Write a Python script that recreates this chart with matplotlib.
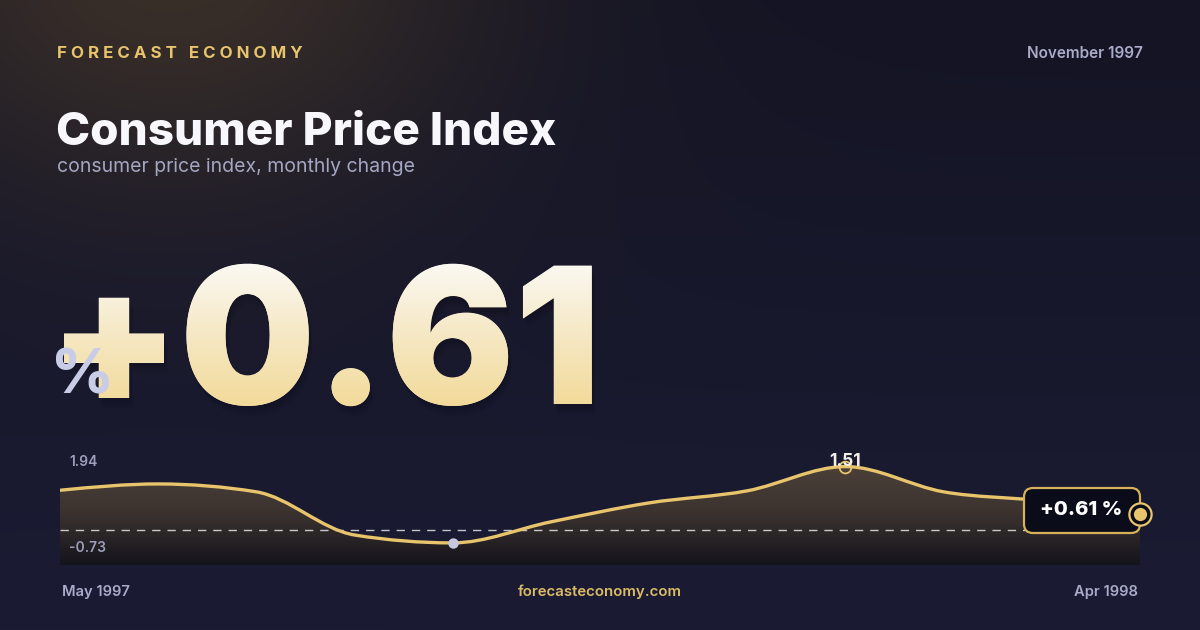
import numpy as np
import matplotlib
matplotlib.use("Agg")
import matplotlib.pyplot as plt
from matplotlib.path import Path
from matplotlib.patches import PathPatch, FancyBboxPatch
from matplotlib.textpath import TextPath
from matplotlib.font_manager import FontProperties
from matplotlib.colors import LinearSegmentedColormap
import matplotlib.transforms as mtransforms

W, H = 1200, 630

# ---- data ----
months = ["May 1997", "Jun 1997", "Jul 1997", "Aug 1997", "Sep 1997", "Oct 1997",
          "Nov 1997", "Dec 1997", "Jan 1998", "Feb 1998", "Mar 1998", "Apr 1998"]
cpi_change = [1.06, 1.18, 1.03, 0.21, 0.06, 0.46, 0.82, 1.05, 1.51, 1.03, 0.86, 0.61]
range_labels = ["1.94", "-0.73"]
headline = "+0.61"
period = "November 1997"
brand = "FORECAST ECONOMY"
title = "Consumer Price Index"
subtitle = "consumer price index, monthly change"
site = "forecasteconomy.com"
ref_level = 0.30

GOLD = "#e8c46c"
LAV = "#a9abc8"
FONT = ["Inter", "DejaVu Sans"]

plt.rcParams["font.family"] = FONT

fig = plt.figure(figsize=(W / 100, H / 100), dpi=100)

# background axes in pixel coordinates (y down)
bg = fig.add_axes([0, 0, 1, 1], zorder=0)
bg.set_xlim(0, W)
bg.set_ylim(H, 0)
bg.axis("off")

yy, xx = np.mgrid[0:H, 0:W]
t = yy / H
base = np.zeros((H, W, 3))
top_c = np.array([20, 20, 36]) / 255
bot_c = np.array([27, 28, 52]) / 255
base[:] = top_c + (bot_c - top_c) * t[..., None]
d2 = (xx - 170) ** 2 + ((yy + 40) / 0.75) ** 2
glow = 0.85 * np.exp(-d2 / (2 * 230 ** 2))
glow_c = np.array([64, 52, 42]) / 255
img = base * (1 - glow[..., None]) + glow_c * glow[..., None]
bg.imshow(img, extent=[0, W, H, 0], aspect="auto", zorder=0)

# header
bg.text(57, 53, " ".join(brand), color=GOLD, fontsize=12.2,
        fontweight="bold", va="center", ha="left")
bg.text(1143, 54, period, color=LAV, fontsize=11, fontweight="semibold",
        va="center", ha="right")
bg.text(56, 145, title, color="#f8f8fc", fontsize=33, fontweight="heavy",
        va="baseline", ha="left")
bg.text(57, 167, subtitle, color="#a4a6c2", fontsize=14, va="center", ha="left")

# big headline number with vertical gradient
big_size = 137
big_prop = FontProperties(family=FONT, weight="black", size=big_size)
bx, by = 48, 404
shadow = TextPath((0, 0), headline, prop=big_prop, size=big_size * 100 / 72)
for k, a in [(10, 0.06), (7, 0.08), (4, 0.10)]:
    tr = mtransforms.Affine2D().scale(1, -1).translate(bx + k * 0.4, by + k)
    bg.add_patch(PathPatch(tr.transform_path(shadow), facecolor="#05050c",
                           edgecolor="none", alpha=a, zorder=2))
bg.text(bx, by, headline, color="#f7e8c0", fontproperties=big_prop,
        va="baseline", ha="left", zorder=3)
tp = TextPath((0, 0), headline, prop=big_prop, size=big_size * 100 / 72)
tr = mtransforms.Affine2D().scale(1, -1).translate(bx, by)
clip = PathPatch(tr.transform_path(tp), facecolor="none", edgecolor="none",
                 transform=bg.transData)
bg.add_patch(clip)
grad = LinearSegmentedColormap.from_list("g", ["#fbfaf6", "#f6e8c4", "#f2d996"])
gv = np.linspace(0, 1, 256)[:, None]
gi = bg.imshow(gv, cmap=grad, extent=[30, 640, 412, 258], aspect="auto", zorder=4)
gi.set_clip_path(clip)
bg.text(51, 393, "%", color="#c9cce6", fontsize=44, fontweight="heavy",
        va="baseline", ha="left", zorder=5)

# footer
bg.text(62, 592, months[0], color=LAV, fontsize=10.6, fontweight="semibold",
        va="center", ha="left")
bg.text(1138, 592, months[-1], color=LAV, fontsize=10.6, fontweight="semibold",
        va="center", ha="right")
bg.text(600, 592, site, color="#dcbb66", fontsize=10.8, fontweight="semibold",
        va="center", ha="center")

# ---- sparkline ----
sp = fig.add_axes([60 / W, (H - 565) / H, 1080 / W, 110 / H], zorder=1)
sp.set_xlim(0, len(cpi_change) - 1)
y_lo, y_hi = -0.36, 1.73
sp.set_ylim(y_lo, y_hi)
sp.axis("off")
sp.patch.set_alpha(0)

x = np.arange(len(cpi_change), dtype=float)
y = np.array(cpi_change, dtype=float)

# monotone cubic tangents -> bezier control points
h = np.diff(x)
s = np.diff(y) / h
m = np.zeros_like(y)
for i in range(1, len(y) - 1):
    p = (s[i - 1] * h[i] + s[i] * h[i - 1]) / (h[i - 1] + h[i])
    m[i] = (np.sign(s[i - 1]) + np.sign(s[i])) * min(abs(s[i - 1]), abs(s[i]), 0.5 * abs(p))
m[0] = (3 * s[0] - m[1]) / 2
m[-1] = (3 * s[-1] - m[-2]) / 2

verts = [(x[0], y[0])]
codes = [Path.MOVETO]
for i in range(len(x) - 1):
    dx = h[i] / 3
    verts += [(x[i] + dx, y[i] + dx * m[i]), (x[i + 1] - dx, y[i + 1] - dx * m[i + 1]),
              (x[i + 1], y[i + 1])]
    codes += [Path.CURVE4] * 3
line_path = Path(verts, codes)
fill_path = Path(verts + [(x[-1], y_lo), (x[0], y_lo), (x[0], y[0])],
                 codes + [Path.LINETO, Path.LINETO, Path.CLOSEPOLY])

fill_patch = PathPatch(fill_path, facecolor="none", edgecolor="none")
sp.add_patch(fill_patch)
fcm = LinearSegmentedColormap.from_list("f", ["#4d4239", "#3b322f", "#14141c"])
fi = sp.imshow(np.linspace(0, 1, 256)[:, None], cmap=fcm, aspect="auto",
               extent=[x[0], x[-1], y_lo, 1.58], zorder=1)
fi.set_clip_path(fill_patch)
sp.axhline(ref_level, color="white", alpha=0.75, lw=1, dashes=(6, 5), zorder=2)
sp.add_patch(PathPatch(line_path, facecolor="none", edgecolor=GOLD, lw=2.4,
                       capstyle="round", zorder=3))

# overlay (labels, markers, value box)
ov = fig.add_axes([0, 0, 1, 1], zorder=2)
ov.set_xlim(0, W)
ov.set_ylim(H, 0)
ov.axis("off")
ov.patch.set_alpha(0)

ov.text(69, 462, range_labels[0], color="#9c9ebb", fontsize=10, fontweight="semibold",
        va="center", ha="left")
ov.text(69, 548, range_labels[1], color="#9c9ebb", fontsize=10, fontweight="semibold",
        va="center", ha="left")

imax = int(np.argmax(y))
imin = int(np.argmin(y))
ov.text(845, 462, f"{y[imax]:.2f}", color="#f1eee6", fontsize=12.5, fontweight="bold",
        va="center", ha="center")
ov.plot([x[imax]], [y[imax]], "o", transform=sp.transData, ms=8.5, mfc="none",
        mec=GOLD, mew=1.3)
ov.plot([x[imin]], [y[imin]], "o", transform=sp.transData, ms=7.5, mfc="#c5c8e0",
        mec="none")

box = FancyBboxPatch((1024, 488), 116, 45, boxstyle="round,pad=0,rounding_size=9",
                     facecolor="#0b0c19", edgecolor="#d6b15a", lw=1.6)
ov.add_patch(box)
ov.text(1081, 510, f"{y[-1]:+.2f} %", color="white", fontsize=14.5, fontweight="heavy",
        va="center", ha="center")
ov.plot([x[-1]], [y[-1]], "o", transform=sp.transData, ms=16, mfc="#0b0c19",
        mec=GOLD, mew=1.6)
ov.plot([x[-1]], [y[-1]], "o", transform=sp.transData, ms=9.5, mfc=GOLD, mec="none")

fig.savefig("out.png", dpi=100)
